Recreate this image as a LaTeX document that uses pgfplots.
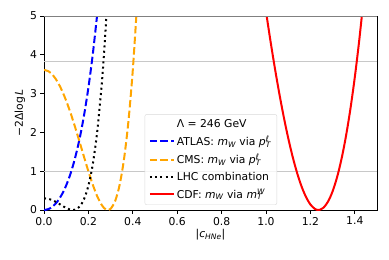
\documentclass[border=0pt]{standalone}
\usepackage{fontspec}
\setmainfont{DejaVu Sans}
\usepackage{pgfplots}
\pgfplotsset{compat=1.18}
\definecolor{mplorange}{RGB}{255,165,0}
\definecolor{mplblue}{RGB}{0,0,255}
\definecolor{mplred}{RGB}{255,0,0}
\definecolor{hgray}{RGB}{200,200,200}
\newcommand{\mW}{{\itshape m}\textsubscript{\itshape W}}
\newcommand{\pTl}{{\itshape p}\rlap{\textsuperscript{\itshape ℓ}}\textsubscript{\itshape T}}
\newcommand{\mTW}{{\itshape m}\rlap{\textsuperscript{\itshape W}}\textsubscript{\itshape T}}
\begin{document}
\begin{tikzpicture}[font=\fontsize{10.8}{13}\selectfont]
\begin{axis}[name=ax,
  width=333pt, height=194pt, scale only axis,
  xmin=0, xmax=1.5, ymin=0, ymax=5,
  xtick={0,0.2,0.4,0.6,0.8,1.0,1.2,1.4},
  ytick={0,1,2,3,4,5},
  xticklabel style={/pgf/number format/.cd, fixed, fixed zerofill, precision=1},
  /pgf/number format/assume math mode=true,
  tick align=outside, major tick length=3.5pt,
  xtick pos=bottom, ytick pos=left,
  axis line style={black, line width=0.8pt},
  tick style={black, line width=0.8pt},
  xlabel={|{\itshape c}\textsubscript{\itshape HNe}|},
  ylabel={−2Δlog\,{\itshape L}},
  xlabel style={yshift=3pt},
  ylabel style={yshift=-2pt},
  legend style={at={(0.70,0.026)}, anchor=south east, draw=black!15, rounded corners=2pt,
    fill=white, fill opacity=0.8, text opacity=1, inner xsep=4pt, inner ysep=3pt,
    row sep=3pt, font=\fontsize{10.8}{13}\selectfont},
  legend cell align=left,
  legend image code/.code={\draw[#1] (0pt,0pt) -- (24pt,0pt);},
]
\addlegendimage{empty legend}
\addlegendentry{Λ = 246 GeV}
\addplot[hgray, line width=0.9pt, forget plot] coordinates {(0,1) (1.5,1)};
\addplot[hgray, line width=0.9pt, forget plot] coordinates {(0,3.84) (1.5,3.84)};
% ATLAS
\addplot[mplblue, line width=2pt, dash pattern=on 7.4pt off 3.2pt, smooth] coordinates {
(0,0) (0.02,0.0234) (0.04,0.0946) (0.06,0.2165) (0.08,0.3942) (0.10,0.6344)
(0.12,0.9461) (0.14,1.3402) (0.16,1.8294) (0.18,2.4285) (0.20,3.1544)
(0.22,4.0258) (0.24,5.0634)};
\addlegendentry{ATLAS: \mW{} via \pTl}
% CMS
\addplot[mplorange, line width=2pt, dash pattern=on 7.4pt off 3.2pt, smooth] coordinates {
(0,3.61) (0.02,3.576) (0.04,3.476) (0.06,3.313) (0.08,3.090) (0.10,2.814)
(0.12,2.494) (0.14,2.138) (0.16,1.760) (0.18,1.374) (0.20,0.997) (0.22,0.648)
(0.24,0.350) (0.26,0.128) (0.27,0.054) (0.28,0.0105) (0.29,0.0011) (0.30,0.0303)
(0.32,0.2233) (0.34,0.630) (0.36,1.295) (0.38,2.270) (0.40,3.609) (0.42,5.374)};
\addlegendentry{CMS: \mW{} via \pTl}
% LHC combination
\addplot[black, line width=2pt, dash pattern=on 2pt off 3.3pt, smooth] coordinates {
(0,0.300) (0.02,0.2866) (0.04,0.2472) (0.06,0.1878) (0.08,0.1180) (0.10,0.0515)
(0.12,0.0068) (0.13,0.0) (0.14,0.0081) (0.16,0.0854) (0.18,0.2761) (0.20,0.6257)
(0.22,1.1896) (0.24,2.0341) (0.26,3.2389) (0.27,4.0052) (0.28,4.8983) (0.29,5.9327)};
\addlegendentry{LHC combination}
% CDF
\addplot[mplred, line width=2pt, smooth] coordinates {
(1.00,5.113) (1.02,4.361) (1.04,3.655) (1.06,3.000) (1.08,2.398) (1.10,1.855)
(1.12,1.373) (1.14,0.957) (1.16,0.610) (1.18,0.337) (1.20,0.142) (1.22,0.0288)
(1.23,0.0042) (1.24,0.0017) (1.26,0.0651) (1.28,0.2235) (1.30,0.4813) (1.32,0.843)
(1.34,1.313) (1.36,1.897) (1.38,2.599) (1.40,3.423) (1.42,4.375) (1.44,5.460)};
\addlegendentry{CDF: \mW{} via \mTW}
\addplot[gray, line width=1.4pt, forget plot] coordinates {(0,5) (1.5,5)};
\end{axis}
\pgfresetboundingbox
\path ([shift={(-44pt,-49pt)}]ax.south west) rectangle ([shift={(12pt,16pt)}]ax.north east);
\end{tikzpicture}
\end{document}
